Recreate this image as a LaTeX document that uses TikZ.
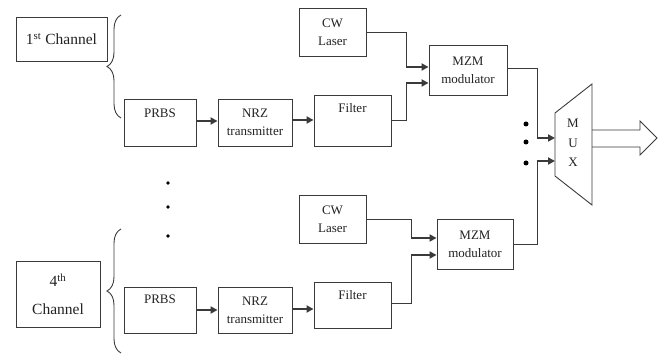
\documentclass[tikz,border=0pt]{standalone}
\usepackage{fontspec}
\setmainfont{Liberation Serif}
\usetikzlibrary{arrows.meta,decorations.pathreplacing,calc}
\definecolor{linec}{HTML}{3A3A3A}
\definecolor{txtc}{HTML}{222222}
\begin{document}
\begin{tikzpicture}[x=1pt,y=-1pt,
  box/.style={draw=linec, line width=0.9pt, inner sep=0pt, text=txtc,
    font=\fontsize{13}{18}\selectfont, align=center},
  chbox/.style={box, font=\fontsize{15.5}{18}\selectfont},
  lbl/.style={inner sep=0pt, text=txtc, font=\fontsize{13}{15}\selectfont},
  wire/.style={draw=linec, line width=0.9pt},
  arr/.style={draw=linec, line width=1.8pt, -{Triangle[length=7pt,width=7pt]}},
  brc/.style={draw=linec, line width=0.9pt, decorate, decoration={brace, amplitude=14pt}},
  dotc/.style={circle, fill=black, inner sep=0pt, minimum size=#1}
]
\useasboundingbox (0,0) rectangle (665,355);

% channel labels
\node[chbox, minimum width=91pt, minimum height=44pt] (ch1) at (61.5,39) {1\textsuperscript{st} Channel};
\node[chbox, minimum width=84pt, minimum height=66pt] (ch4) at (58,294) {4\textsuperscript{th}\\[10pt]Channel};

% braces
\coordinate (b1s) at (121,118); \coordinate (b1e) at (121,15);
\coordinate (b2s) at (121,353); \coordinate (b2e) at (121,229);
\draw[brc] (b1s) -- (b1e);
\draw[brc] (b2s) -- (b2e);

% channel 1
\node[box, minimum width=72pt, minimum height=47pt] (prbs1) at (160,122.5) {};
\node[lbl] (prbs1t) at (160,113) {PRBS};
\node[box, minimum width=74pt, minimum height=47pt] (nrz1) at (255,122.5) {NRZ\\transmitter};
\node[box, minimum width=77pt, minimum height=51pt] (filt1) at (352.5,120.5) {};
\node[lbl] (filt1t) at (352.5,108) {Filter};
\node[box, minimum width=67pt, minimum height=48pt] (cw1) at (332.5,32) {CW\\Laser};
\node[box, minimum width=78pt, minimum height=50pt] (mzm1) at (468,70) {MZM\\modulator};

% channel 4
\node[box, minimum width=72pt, minimum height=46pt] (prbs2) at (160,310) {};
\node[lbl] (prbs2t) at (160,299) {PRBS};
\node[box, minimum width=74pt, minimum height=46pt] (nrz2) at (255,310) {NRZ\\transmitter};
\node[box, minimum width=77pt, minimum height=46pt] (filt2) at (352.5,305) {};
\node[lbl] (filt2t) at (352.5,295) {Filter};
\node[box, minimum width=67pt, minimum height=48pt] (cw2) at (332.5,219) {CW\\Laser};
\node[box, minimum width=76pt, minimum height=50pt] (mzm2) at (475,244) {MZM\\modulator};

% MUX
\coordinate (mA) at (555,113); \coordinate (mB) at (592,84);
\coordinate (mC) at (592,205); \coordinate (mD) at (555,176);
\draw[wire] (mA) -- (mB) -- (mC) -- (mD) -- cycle;
\node[lbl, align=center, font=\fontsize{13}{19.5}\selectfont] (muxt) at (573,143) {M\\U\\X};
\coordinate (min1) at (555,138);
\coordinate (min2) at (555,161);

% output arrow
\draw[wire] (592,130) -- (640,130) -- (640,121) -- (657,138) -- (640,155) -- (640,147) -- (592,147);

% chain arrows
\draw[arr] (prbs1.east |- 0,121) -- (nrz1.west |- 0,121);
\draw[arr] (nrz1.east |- 0,120) -- (filt1.west |- 0,120);
\draw[arr] (prbs2.east |- 0,310) -- (nrz2.west |- 0,310);
\draw[arr] (nrz2.east |- 0,309) -- (filt2.west |- 0,309);

% into MZM 1
\coordinate (j1) at (406,67); \coordinate (j2) at (406,83);
\draw[wire] (cw1.east) -| (j1);
\draw[arr] (j1) -- (mzm1.west |- j1);
\draw[wire] (filt1.east) -| (j2);
\draw[arr] (j2) -- (mzm1.west |- j2);

% into MZM 2
\coordinate (k1) at (411,238); \coordinate (k2) at (411,255);
\draw[wire] (cw2.east) -| (k1);
\draw[arr] (k1) -- (mzm2.west |- k1);
\draw[wire] (filt2.east |- 0,303) -| (k2);
\draw[arr] (k2) -- (mzm2.west |- k2);

% into MUX
\coordinate (m1) at (537,138); \coordinate (m2) at (537,161);
\draw[wire] (mzm1.east |- 0,68) -| (m1);
\draw[arr] (m1) -- (min1);
\draw[wire] (mzm2.east) -| (m2);
\draw[arr] (m2) -- (min2);

% dots
\node[dotc=3.6pt] (d1) at (168,183) {};
\node[dotc=3.6pt] (d2) at (168,207) {};
\node[dotc=3.6pt] (d3) at (168,236) {};
\node[dotc=5pt] (e1) at (526,124) {};
\node[dotc=5pt] (e2) at (526,142) {};
\node[dotc=5pt] (e3) at (526,163) {};
\end{tikzpicture}
\end{document}
